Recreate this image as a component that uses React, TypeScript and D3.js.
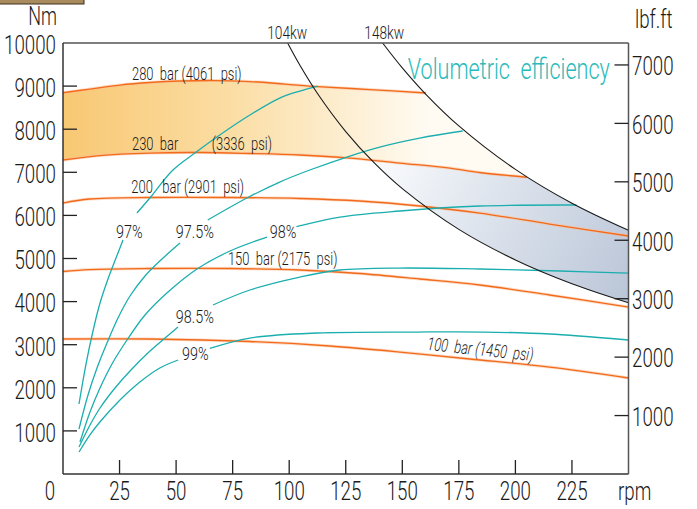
import React from 'react';
import * as d3 from 'd3';

type P = [number, number] | null;

// axis ticks
const rpmTicks = [25, 50, 75, 100, 125, 150, 175, 200, 225];
const nmTicks = [1000, 2000, 3000, 4000, 5000, 6000, 7000, 8000, 9000];
const nmLabels = [1000, 2000, 3000, 4000, 5000, 6000, 7000, 8000, 9000, 10000];
const lbfTicks = [1000, 2000, 3000, 4000, 5000, 6000, 7000];

// pressure lines (rpm, Nm)
const bar280: P[] = [[0, 8846], [11.9, 8932], [25.2, 9025], [38.4, 9083], [51.7, 9118], [67.1, 9129], [82.6, 9106], [98.1, 9048], [112.6, 8990], [135.6, 8920], [160.5, 8840]];
const bar230: P[] = [[0, 7285], [16.3, 7389], [38.4, 7447], [60.5, 7459], [82.6, 7436], [104.7, 7401], [126.8, 7331], [148.9, 7215], [171, 7099], [184.2, 6995], [205, 6885]];
const bar200: P[] = [[0, 6287], [11.9, 6380], [38.4, 6415], [73.8, 6415], [104.7, 6392], [131.2, 6334], [157.7, 6218], [184.2, 6055], [215.1, 5800], [250, 5522]];
const bar150: P[] = [[0, 4698], [11.9, 4744], [38.4, 4768], [73.8, 4768], [104.7, 4733], [131.2, 4652], [157.7, 4524], [184.2, 4385], [215.1, 4153], [250, 3874]];
const bar100: P[] = [[0, 3132], [38.4, 3132], [82.6, 3074], [117.9, 2970], [148.9, 2830], [179.8, 2668], [215.1, 2482], [250, 2227]];

// constant power lines (rpm, Nm)
const kw104: P[] = [[99.3, 10000], [105, 9459], [112.5, 8828], [125, 7945], [137.5, 7223], [150, 6621], [175, 5675], [200, 4966], [225, 4414], [250, 3973]];
const kw148: P[] = [[141.3, 10000], [150, 9422], [160, 8833], [175, 8076], [200, 7067], [225, 6281], [250, 5653]];

// volumetric efficiency lines (null = break at label)
const eff97: P[] = [[7.07, 1624], [10.17, 2552], [13.26, 3318], [16.36, 3967], [19.89, 4524], [23.43, 5011], [26.53, 5429], null, [32.7, 6055], [38.4, 6403], [48.6, 7053], [58.3, 7447], [69.3, 7865], [82.6, 8329], [95.8, 8723], [104.7, 8886], [112.6, 9002]];
const eff975: P[] = [[7.07, 1044], [11.05, 1833], [15.03, 2459], [19.45, 3039], [24.31, 3619], [29.62, 4130], [36.25, 4594], [43.77, 4988], [51.72, 5359], null, [64, 5893], [81.3, 6403], [95.8, 6774], [109.1, 7053], [126.8, 7378], [140, 7586], [157.7, 7795], [176.7, 7958]];
const eff98: P[] = [[7.51, 742], [11.94, 1438], [16.36, 1995], [21.66, 2552], [28.29, 3109], [36.25, 3689], [46.42, 4222], [59.24, 4756], [73.83, 5174], [90.19, 5498], null, [103.2, 5738], [122.4, 5962], [148.9, 6102], [184.2, 6218], [227, 6241]];
const eff985: P[] = [[7.07, 626], [11.94, 1137], [16.36, 1531], [22.99, 1995], [29.62, 2390], [38.46, 2854], [45.09, 3155], [50.84, 3410], null, [66.3, 3921], [82.6, 4269], [104.7, 4570], [122.3, 4733], [148.9, 4779], [184.2, 4756], [219.5, 4710], [250, 4663]];
const eff99: P[] = [[7.1, 510], [11.9, 905], [16.3, 1206], [25.2, 1717], [34, 2134], [42.8, 2459], [50.9, 2645], null, [64.9, 2915], [82.6, 3155], [112.2, 3271], [156.4, 3294], [185.5, 3294], [215.1, 3248], [250, 3109]];

// annotation texts with anchor positions (rpm, Nm)
const barLabels: { t: string; r: number; n: number; italic?: boolean; rot?: number }[] = [
  { t: '280  bar (4061  psi)', r: 30.5, n: 9150 },
  { t: '230  bar', r: 30.5, n: 7510 },
  { t: '(3336  psi)', r: 65.8, n: 7510 },
  { t: '200   bar (2901  psi)', r: 30.2, n: 6530 },
  { t: '150  bar (2175  psi)', r: 72.9, n: 4860 },
  { t: '100  bar (1450  psi)', r: 160.8, n: 2880, italic: true, rot: 6 },
];
const effLabels: { t: string; r: number; n: number }[] = [
  { t: '97%', r: 23.4, n: 5480 },
  { t: '97.5%', r: 49.9, n: 5480 },
  { t: '98%', r: 91.4, n: 5480 },
  { t: '98.5%', r: 49.9, n: 3510 },
  { t: '99%', r: 52.6, n: 2650 },
];
const kwLabels: { t: string; r: number }[] = [
  { t: '104kw', r: 90.3 },
  { t: '148kw', r: 133.2 },
];

const NM_PER_LBF = 1.35582;
const W = 697;
const H = 509;

const x = d3.scaleLinear().domain([0, 250]).range([63, 628.5]);
const y = d3.scaleLinear().domain([0, 10000]).range([474, 43]);
const yR = d3.scaleLinear().domain([0, 10000 / NM_PER_LBF]).range([474, 43]);

const lineGen = d3
  .line<P>()
  .defined((d) => d !== null)
  .x((d) => x((d as [number, number])[0]))
  .y((d) => y((d as [number, number])[1]))
  .curve(d3.curveCatmullRom.alpha(0.5));

const FONT = "Roboto, 'DejaVu Sans', sans-serif";
const ORANGE = '#F26A1B';
const HALO = '#F9BE95';
const TEAL = '#1BAEAE';

function T(props: {
  x: number; y: number; size: number; anchor?: string; fill?: string; sx?: number;
  italic?: boolean; rot?: number; dy?: string; weight?: number; children: React.ReactNode;
}) {
  const { x: tx, y: ty, size, anchor = 'start', fill = '#1a1a1a', sx = 0.72, italic, rot, dy, weight = 300 } = props;
  return (
    <g transform={`translate(${tx},${ty})${rot ? ` rotate(${rot})` : ''} scale(${sx},1)`}>
      <text
        x={0}
        y={0}
        dy={dy}
        fontSize={size}
        textAnchor={anchor as any}
        fill={fill}
        fontFamily={FONT}
        fontWeight={weight}
        fontStyle={italic ? 'italic' : 'normal'}
        style={{ whiteSpace: 'pre' }}
        xmlSpace="preserve"
      >
        {props.children}
      </text>
    </g>
  );
}

const asL = (s: string | null) => (s || '').replace(/^M/, 'L');

export default function App() {
  const p280 = lineGen(bar280) || '';
  const rev230 = [...bar230].reverse();
  const yellowPath =
    p280 + `L${x(215)},${y(8840)}` + asL(lineGen(rev230)) + 'Z';
  const leftOf148 =
    `M${x(0)},${y(10000)}L${x(141.3)},${y(10000)}` + asL(lineGen(kw148)) + `L${x(250)},${y(0)}L${x(0)},${y(0)}Z`;

  const rev104 = [...kw104].reverse();
  const bandPath =
    (lineGen(kw148) || '') + `L${x(250)},${y(3973)}` + asL(lineGen(rev104)) + 'Z';
  const under230 =
    (lineGen(bar230) || '') + `L${x(260)},${y(6885)}L${x(260)},${y(0)}L${x(0)},${y(0)}Z`;

  const bars = [bar280, bar230, bar200, bar150, bar100];
  const effs = [eff97, eff975, eff98, eff985, eff99];

  return (
    <svg
      width={W}
      height={H}
      viewBox={`0 0 ${W} ${H}`}
      style={{ position: 'absolute', left: 0, top: 0, background: '#fff' }}
    >
      <defs>
        <linearGradient id="yel" gradientUnits="userSpaceOnUse" x1={x(0)} y1={0} x2={x(162)} y2={0}>
          <stop offset="0" stopColor="#F8C873" />
          <stop offset="0.45" stopColor="#FBDDA3" />
          <stop offset="0.8" stopColor="#FDF0D6" />
          <stop offset="1" stopColor="#FFFBF3" />
        </linearGradient>
        <linearGradient id="blu" gradientUnits="userSpaceOnUse" x1={x(130)} y1={y(7600)} x2={x(250)} y2={y(4200)}>
          <stop offset="0" stopColor="#FFFFFF" />
          <stop offset="0.45" stopColor="#DFE5EE" />
          <stop offset="1" stopColor="#BBC6D8" />
        </linearGradient>
        <clipPath id="cLeft148">
          <path d={leftOf148} />
        </clipPath>
        <clipPath id="cUnder230">
          <path d={under230} />
        </clipPath>
      </defs>

      <rect x={-1} y={-1} width={85} height={5} fill="#A88A5C" stroke="#3b2e1c" strokeWidth={1} />

      <path d={yellowPath} fill="url(#yel)" clipPath="url(#cLeft148)" />
      <path d={bandPath} fill="url(#blu)" clipPath="url(#cUnder230)" />

      {bars.map((b, i) => (
        <g key={'b' + i}>
          <path d={lineGen(b) || ''} fill="none" stroke={HALO} strokeWidth={3} strokeOpacity={0.55} />
          <path d={lineGen(b) || ''} fill="none" stroke={ORANGE} strokeWidth={1.3} />
        </g>
      ))}

      {effs.map((e, i) => (
        <path key={'e' + i} d={lineGen(e) || ''} fill="none" stroke={TEAL} strokeWidth={1.3} />
      ))}

      <path d={lineGen(kw104) || ''} fill="none" stroke="#1a1a1a" strokeWidth={1.1} />
      <path d={lineGen(kw148) || ''} fill="none" stroke="#1a1a1a" strokeWidth={1.1} />

      {/* frame */}
      <line x1={x(0)} x2={x(250)} y1={y(10000)} y2={y(10000)} stroke="#555" strokeWidth={1.5} />
      <line x1={x(0)} x2={x(250)} y1={y(0)} y2={y(0)} stroke="#333" strokeWidth={1.5} />
      <line x1={x(0)} x2={x(0)} y1={y(0)} y2={y(10000)} stroke="#333" strokeWidth={1.5} />
      <line x1={x(250)} x2={x(250)} y1={y(0)} y2={y(10000)} stroke="#555" strokeWidth={1.5} />

      {nmTicks.map((t) => (
        <line key={'lt' + t} x1={x(0)} x2={x(0) + 14} y1={y(t)} y2={y(t)} stroke="#222" strokeWidth={1.3} />
      ))}
      {lbfTicks.map((t) => (
        <line key={'rt' + t} x1={x(250) - 14} x2={x(250)} y1={yR(t)} y2={yR(t)} stroke="#222" strokeWidth={1.3} />
      ))}
      {rpmTicks.map((t) => (
        <line key={'bt' + t} x1={x(t)} x2={x(t)} y1={y(0)} y2={y(0) - 14} stroke="#222" strokeWidth={1.3} />
      ))}

      {nmLabels.map((t) => (
        <T key={'ll' + t} x={56} y={y(t) + 1.5} size={26} anchor="end" dy="0.36em">
          {String(t)}
        </T>
      ))}
      {lbfTicks.map((t) => (
        <T key={'rl' + t} x={632} y={yR(t) + 1} size={26} anchor="start" dy="0.36em">
          {String(t)}
        </T>
      ))}
      {rpmTicks.map((t) => (
        <T key={'bl' + t} x={x(t)} y={500} size={26} anchor="middle">
          {String(t)}
        </T>
      ))}
      <T x={50} y={500} size={26} anchor="middle">0</T>
      <T x={618} y={500} size={26} anchor="start">rpm</T>
      <T x={57} y={25} size={25} anchor="end">Nm</T>
      <T x={635} y={28} size={26} anchor="start">lbf.ft</T>

      {kwLabels.map((k) => (
        <T key={k.t} x={x(k.r)} y={39} size={19} anchor="start">{k.t}</T>
      ))}

      {barLabels.map((b) => (
        <T key={b.t} x={x(b.r)} y={y(b.n)} size={18} anchor="start" italic={b.italic} rot={b.rot}>
          {b.t}
        </T>
      ))}
      {effLabels.map((e) => (
        <T key={e.t} x={x(e.r)} y={y(e.n)} size={18} anchor="start" sx={0.8}>{e.t}</T>
      ))}

      <T x={x(152.4)} y={79} size={30} anchor="start" fill="#2BBABA">Volumetric  efficiency</T>
    </svg>
  );
}
